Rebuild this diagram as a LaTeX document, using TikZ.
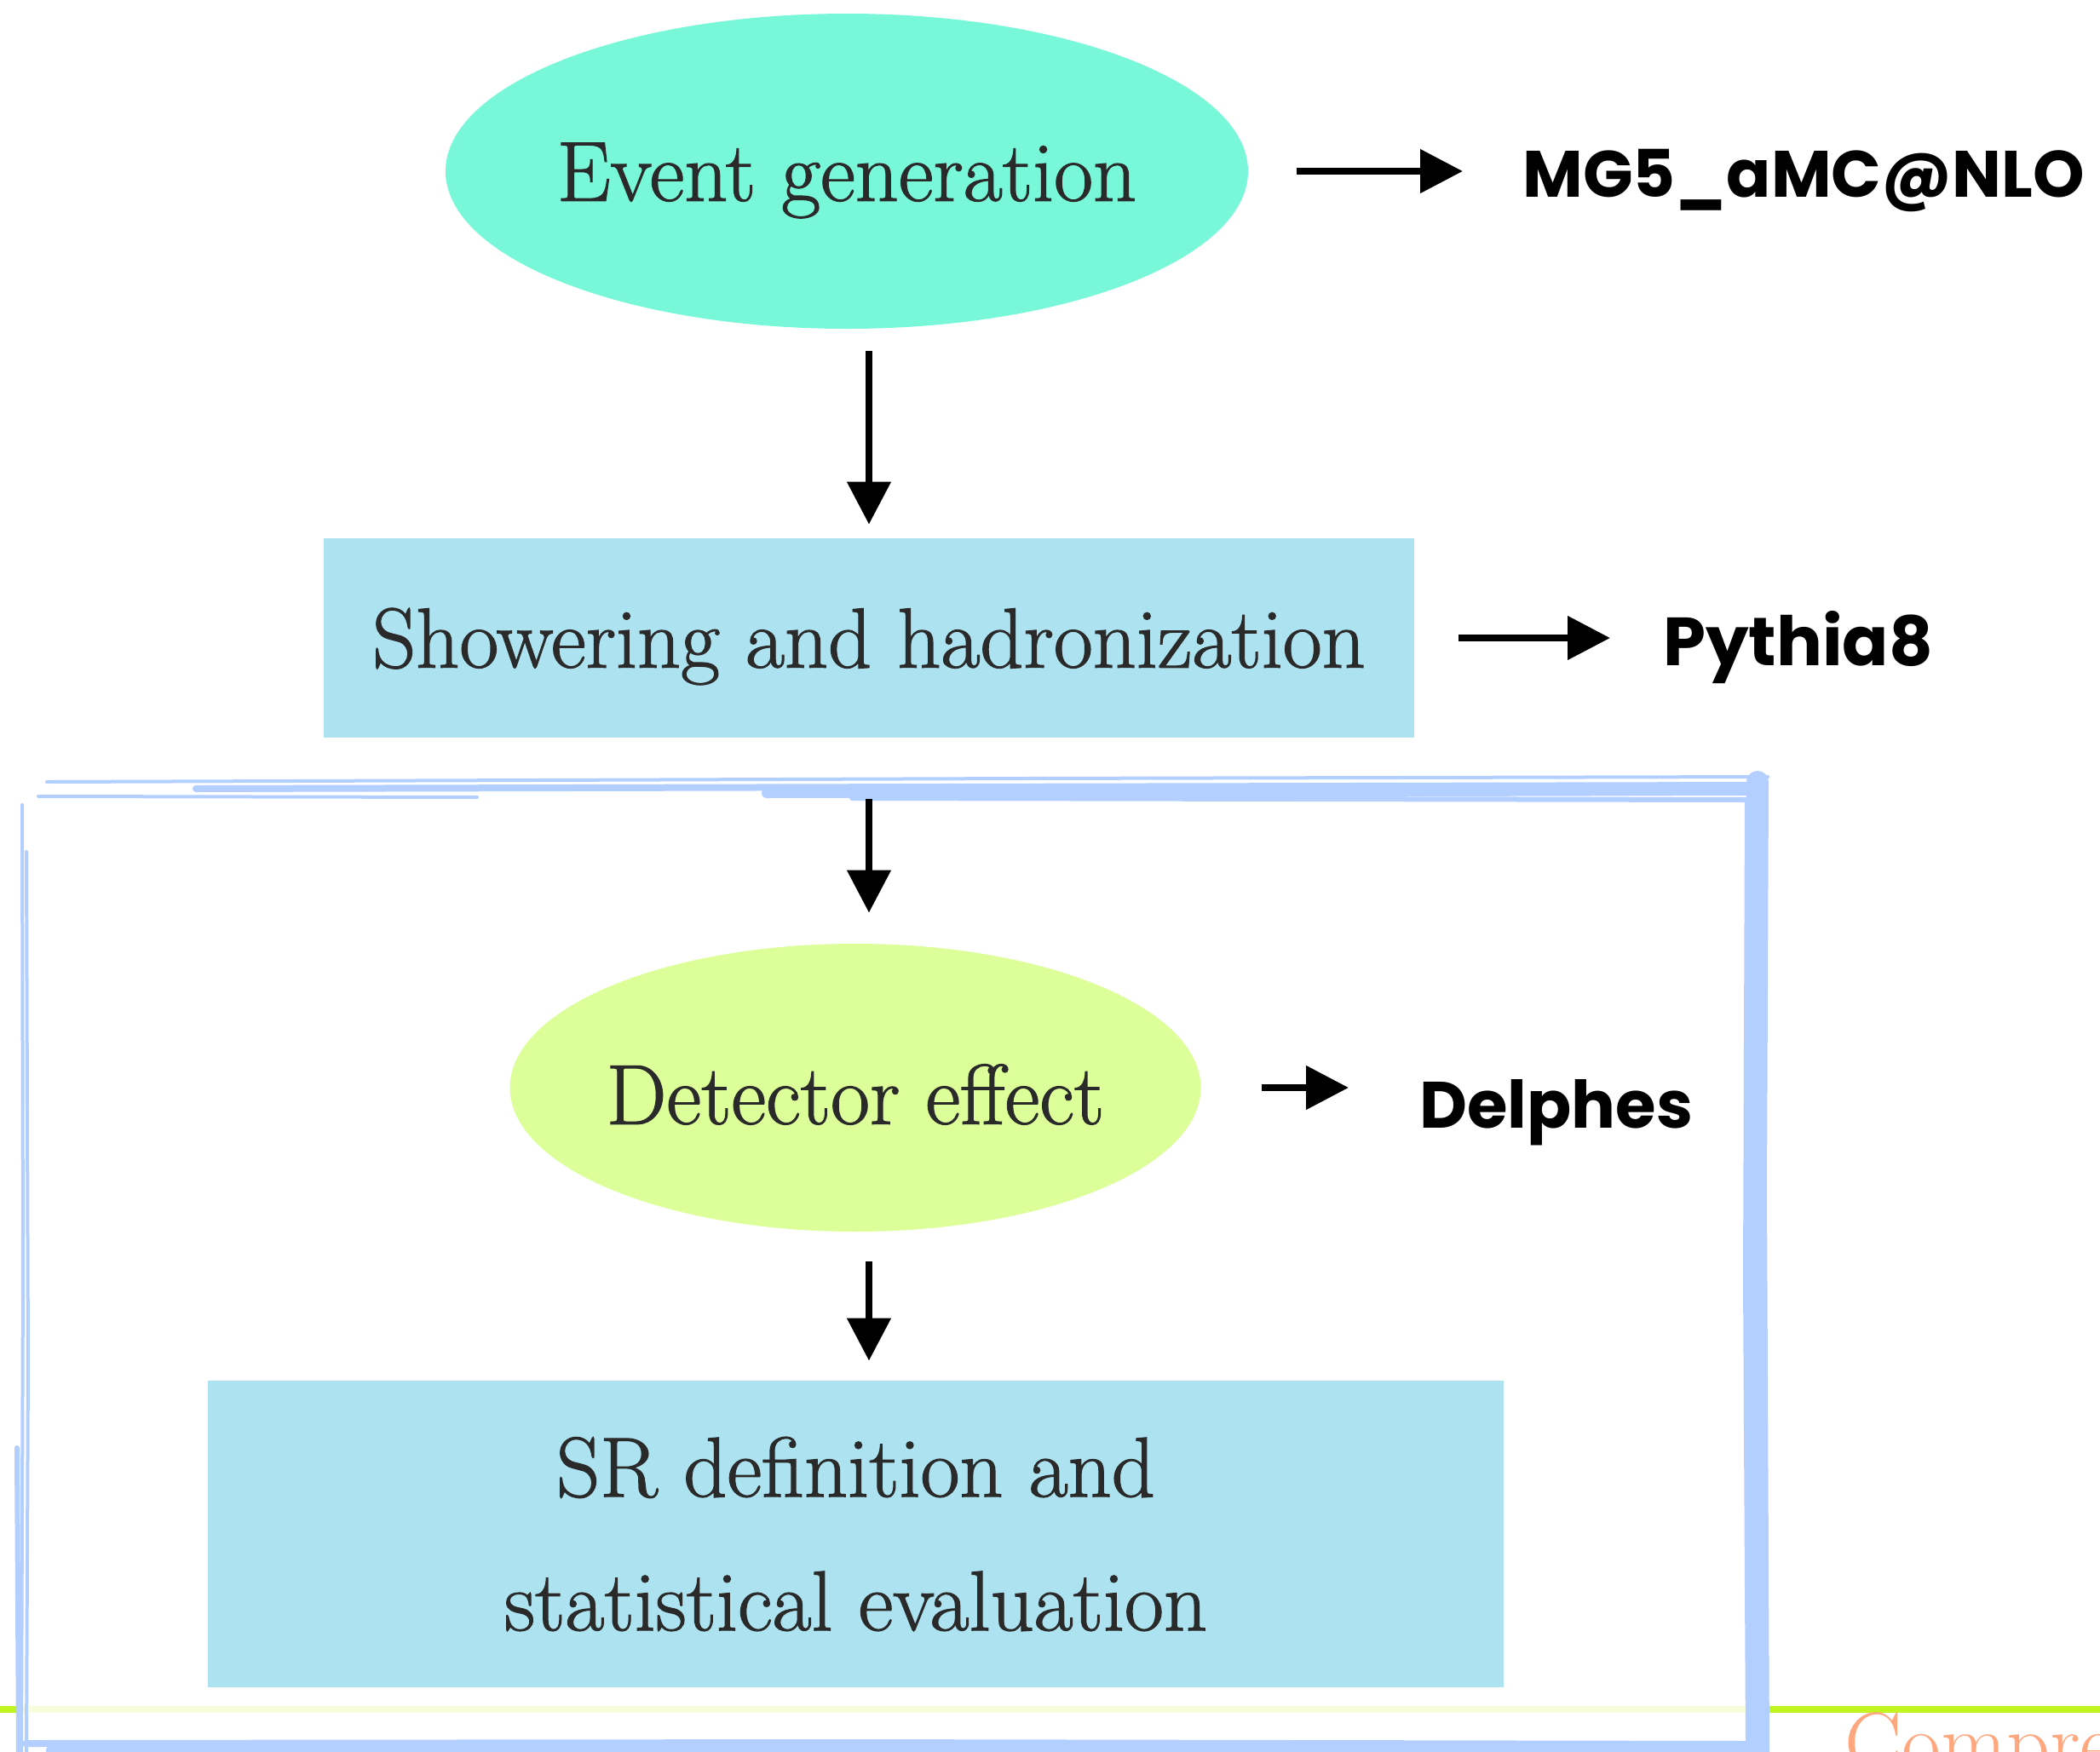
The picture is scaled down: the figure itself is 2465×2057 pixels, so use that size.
\documentclass[tikz,border=0pt]{standalone}
\usepackage{fontspec}
\setmainfont{Latin Modern Roman}[FakeBold=1.2]
\newfontfamily\labelfont{Poppins}
\newfontfamily\footfont{Latin Modern Roman}
\usetikzlibrary{shapes.geometric,arrows.meta}
\definecolor{evgen}{HTML}{78F8D9}
\definecolor{boxcyan}{HTML}{ADE3F0}
\definecolor{detgreen}{HTML}{DDFF99}
\definecolor{framebl}{HTML}{B3CFFF}
\definecolor{linegreen}{HTML}{C0F520}
\definecolor{orangetx}{HTML}{FFA77F}
\definecolor{maintx}{HTML}{2A2A2A}
\tikzset{
  mainfont/.style={font=\fontsize{50}{60}\selectfont, text=maintx},
  ellnode/.style={ellipse, inner xsep=-20pt, inner ysep=0pt, mainfont},
  boxnode/.style={rectangle, inner sep=0pt, mainfont},
  toolnode/.style={inner sep=0pt, anchor=west, font=\labelfont\bfseries\fontsize{40}{48}\selectfont, text=black},
  arr/.style={line width=4pt, -{Triangle[length=25pt,width=25pt]}},
  sketch/.style={draw=framebl, line cap=round},
}
\begin{document}
\begin{tikzpicture}[x=0.5pt,y=-0.5pt]
\useasboundingbox (0,0) rectangle (2465,2057);
% green rule and footer text
\draw[linegreen, line width=4pt] (0,2007) -- (2465,2007);
\node[anchor=north west, inner sep=0pt, text=orangetx, font=\footfont\fontsize{50}{56}\selectfont] (foot) at (2165,2010) {Compre};
% frame fill (veils the rule)
\fill[white, opacity=0.85] (25,915) rectangle (2067,2057);
% sketchy frame
\draw[sketch, line width=2pt] (55,918) -- (1200,914) -- (2075,912);
\draw[sketch, line width=4pt] (230,926) -- (1100,924) -- (2060,922);
\draw[sketch, line width=6pt] (900,931) -- (2055,928);
\draw[sketch, line width=2pt] (45,935) -- (560,936);
\draw[sketch, line width=3pt] (1000,937) -- (2050,939);
\draw[sketch, line width=13pt] (2063,918) -- (2061,1400) -- (2064,2057);
\draw[sketch, line width=3pt] (2051,940) -- (2049,1500) -- (2052,2045);
\draw[sketch, line width=2pt] (26,945) -- (27,1500) -- (25,2057);
\draw[sketch, line width=2pt] (31,1000) -- (33,1600) -- (31,2057);
\draw[sketch, line width=3pt] (20,1700) -- (22,2057);
\draw[sketch, line width=4pt] (30,2047) -- (1000,2046) -- (2055,2048);
\draw[sketch, line width=6pt] (60,2055) -- (1200,2054) -- (2060,2056);
% nodes
\node[ellnode, fill=evgen, minimum width=471pt, minimum height=185pt] (e1) at (994,201) {\raisebox{-5.5pt}[\height][\depth]{Event generation}};
\node[boxnode, fill=boxcyan, minimum width=640pt, minimum height=117pt] (r2) at (1020,749) {\raisebox{-5pt}[\height][\depth]{Showering and hadronization}};
\node[ellnode, fill=detgreen, minimum width=405.5pt, minimum height=169pt] (e2) at (1004,1277) {\raisebox{-4pt}[\height][\depth]{Detector effect}};
\node[boxnode, fill=boxcyan, minimum width=760.5pt, minimum height=180pt, align=center, font=\fontsize{50}{78.5}\selectfont] (r3) at (1004.5,1801) {SR definition and\\statistical evaluation};
\node[toolnode, font=\labelfont\bfseries\fontsize{38.5}{44}\selectfont] (mg) at (1787,212) {MG5\_aMC@NLO};
\node[toolnode] (py) at (1952,760) {Pythia8};
\node[toolnode, font=\labelfont\bfseries\fontsize{38.5}{44}\selectfont] (de) at (1666,1306) {Delphes};
% connectors
\draw[arr, shorten <=13pt, shorten >=8pt] (e1.south -| r2.north) -- (r2.north);
\draw[arr, shorten <=36pt, shorten >=18pt] (r2.south) -- (e2.north -| r2.south);
\draw[arr, shorten <=17.5pt, shorten >=11.5pt] (e2.south -| r2.south) -- (r3.north -| r2.south);
\draw[arr, shorten <=28.5pt, shorten >=35pt] (e1.east) -- (e1.east -| mg.west);
\draw[arr, shorten <=26pt, shorten >=31pt] (r2.east) -- (r2.east -| py.west);
\draw[arr, shorten <=35.5pt, shorten >=41.5pt] (e2.east) -- (e2.east -| de.west);
\end{tikzpicture}
\end{document}
